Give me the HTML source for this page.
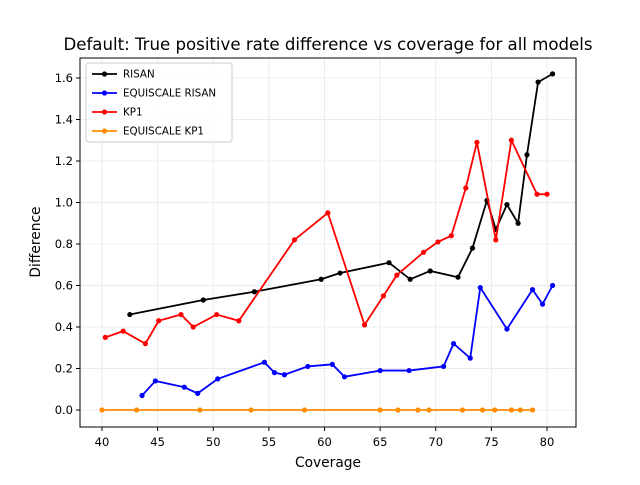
<!DOCTYPE html>
<html><head><meta charset="utf-8"><style>
body{margin:0;background:#fff;font-family:"Liberation Sans","DejaVu Sans",sans-serif}
svg text{font-family:"DejaVu Sans","Liberation Sans",sans-serif}
</style></head><body>
<svg id="chart" width="640" height="480" xmlns="http://www.w3.org/2000/svg">
<rect width="640" height="480" fill="#fff"/>
<text x="328" y="50" font-size="16.6" text-anchor="middle">Default: True positive rate difference vs coverage for all models</text>
<g id="grid"></g><g id="axes"></g><g id="series"></g>
<rect x="80" y="58" width="496" height="369" fill="none" stroke="#000" stroke-width="1"/>
<text x="328" y="467" font-size="13.8" text-anchor="middle">Coverage</text>
<text x="40" y="242" font-size="13.8" text-anchor="middle" transform="rotate(-90 40 242)">Difference</text>
<g id="legend"></g>
</svg>
<script>
const risanX=[42.5,49.1,53.7,59.7,61.4,65.8,67.7,69.5,72.0,73.3,74.6,75.4,76.4,77.4,78.2,79.2,80.5];
const risanY=[0.46,0.53,0.57,0.63,0.66,0.71,0.63,0.67,0.64,0.78,1.01,0.87,0.99,0.90,1.23,1.58,1.62];
const eqRisanX=[43.6,44.8,47.4,48.6,50.4,54.6,55.5,56.4,58.5,60.7,61.8,65.0,67.6,70.7,71.6,73.1,74.0,76.4,78.7,79.6,80.5];
const eqRisanY=[0.07,0.14,0.11,0.08,0.15,0.23,0.18,0.17,0.21,0.22,0.16,0.19,0.19,0.21,0.32,0.25,0.59,0.39,0.58,0.51,0.60];
const kp1X=[40.3,41.9,43.9,45.1,47.1,48.2,50.3,52.3,57.3,60.3,63.6,65.3,66.5,68.9,70.2,71.4,72.7,73.7,75.4,76.8,79.1,80.0];
const kp1Y=[0.35,0.38,0.32,0.43,0.46,0.40,0.46,0.43,0.82,0.95,0.41,0.55,0.65,0.76,0.81,0.84,1.07,1.29,0.82,1.30,1.04,1.04];
const eqKp1X=[40.0,43.1,48.8,53.4,58.2,65.0,66.6,68.4,69.4,72.4,74.2,75.3,76.8,77.6,78.7];
const eqKp1Y=[0,0,0,0,0,0,0,0,0,0,0,0,0,0,0];
const xTicks=[40,45,50,55,60,65,70,75,80];
const yTicks=[0.0,0.2,0.4,0.6,0.8,1.0,1.2,1.4,1.6];
const seriesNames=["RISAN","EQUISCALE RISAN","KP1","EQUISCALE KP1"];
const NS="http://www.w3.org/2000/svg";
function xs(v){return 102+(v-40)*11.125;}
function ys(v){return 410-v*207.5;}
function mk(tag,attrs,parent){const e=document.createElementNS(NS,tag);for(const k in attrs)e.setAttribute(k,attrs[k]);parent.appendChild(e);return e;}
const grid=document.getElementById('grid'),axes=document.getElementById('axes'),ser=document.getElementById('series'),leg=document.getElementById('legend');
xTicks.forEach(t=>{const x=xs(t);
 const g=mk('line',{x1:x,x2:x,y1:58,y2:427,stroke:'#e6e6e6','stroke-width':0.8},grid);
 
 
 const tk=mk('line',{x1:x,x2:x,y1:427,y2:431,stroke:'#000'},axes);
 
 
 const tx=mk('text',{x:x,y:446,'font-size':11.5,'text-anchor':'middle'},axes);tx.textContent=t;
 
 });
yTicks.forEach(t=>{const y=ys(t);
 const g=mk('line',{x1:80,x2:576,y1:y,y2:y,stroke:'#e6e6e6','stroke-width':0.8},grid);
 
 
 const tk=mk('line',{x1:76,x2:80,y1:y,y2:y,stroke:'#000'},axes);
 
 
 const tx=mk('text',{x:73,y:y+4,'font-size':11.5,'text-anchor':'end'},axes);tx.textContent=t.toFixed(1);
 
 });
const data=[[risanX,risanY,'#000'],[eqRisanX,eqRisanY,'#0000ff'],[kp1X,kp1Y,'#ff0000'],[eqKp1X,eqKp1Y,'#ff8c00']];
data.forEach((d,i)=>{const [X,Y,c]=d;
 const pl=mk('polyline',{points:X.map((x,j)=>xs(x)+','+ys(Y[j])).join(' '),fill:'none',stroke:c,'stroke-width':1.8},ser);
 
 
 X.forEach((x,j)=>{const p=mk('circle',{cx:xs(x),cy:ys(Y[j]),r:2.6,fill:c},ser);
  
  });});
const lb=mk('rect',{x:86,y:63,width:146,height:79,rx:3,fill:'#fff','fill-opacity':0.8,stroke:'#ccc'},leg);


seriesNames.forEach((n,i)=>{const y=74+i*19,c=data[i][2];
 const l=mk('line',{x1:92,x2:117,y1:y,y2:y,stroke:c,'stroke-width':1.8},leg);
 
 
 mk('circle',{cx:104.5,cy:y,r:2.6,fill:c},leg);
 const t=mk('text',{x:123,y:y+3.5,'font-size':10.3},leg);t.textContent=n;
 
 });
</script>
</body></html>
